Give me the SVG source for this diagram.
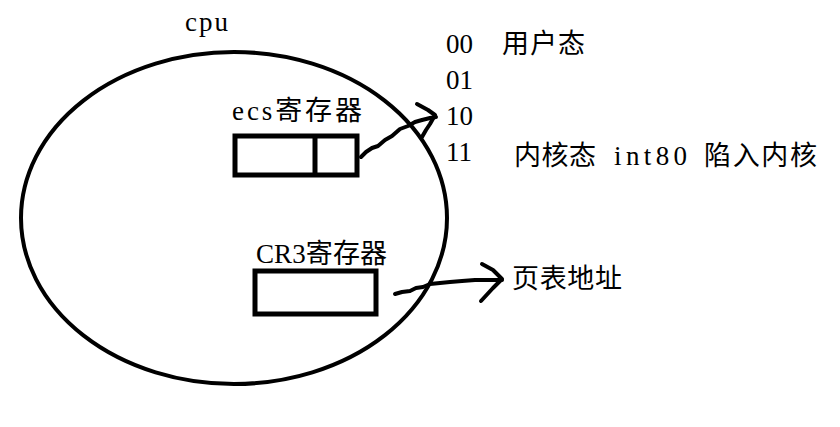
<svg xmlns="http://www.w3.org/2000/svg" width="840" height="427" viewBox="0 0 840 427">
<style>
text{font-family:"Liberation Serif","Noto Sans CJK SC",serif;font-size:27px;fill:#000}
.box{fill:none;stroke:#000;stroke-width:5}
.pen{fill:none;stroke:#000;stroke-width:4;stroke-linecap:round;stroke-linejoin:round}
</style>
<rect width="840" height="427" fill="#fff"/>
<g id="cpu">
<ellipse cx="234" cy="218" rx="213" ry="166" class="pen"/>
<text x="185" y="31" textLength="43" lengthAdjust="spacing">cpu</text>
</g>
<g id="ecs">
<text x="232" y="120" textLength="130" lengthAdjust="spacing">ecs寄存器</text>
<rect x="235" y="136" width="122" height="39" class="box"/>
<line x1="315" y1="136" x2="315" y2="175" class="box"/>
</g>
<g id="cr3">
<text x="256" y="263" textLength="131" lengthAdjust="spacing">CR3寄存器</text>
<rect x="255" y="271" width="121" height="43" class="box"/>
</g>
<g id="modes">
<text x="446" y="53">00</text>
<text x="502" y="53" textLength="83" lengthAdjust="spacing">用户态</text>
<text x="446" y="89">01</text>
<text x="446" y="125">10</text>
<text x="446" y="161">11</text>
<text x="514" y="165" textLength="82" lengthAdjust="spacing">内核态</text>
<text x="614" y="165" textLength="73" lengthAdjust="spacing">int80</text>
<text x="704" y="165" textLength="113" lengthAdjust="spacing">陷入内核</text>
</g>
<g id="pagetable">
<text x="512" y="288" textLength="110" lengthAdjust="spacing">页表地址</text>
</g>
<g id="connectors">
<path class="pen" d="M361 157 L366 152 L372 148 L378 146 L385 140 L392 136 L400 129 L408 126 L415 122 L422 120 L430 118 L436 117"/>
<path class="pen" d="M417 104 L428 110 L435 115 L430 124 L426 130 L422 137"/>
<path class="pen" d="M395 294 L402 292 L410 291 L416 288 L423 287 L430 284 L440 283 L450 282 L462 281 L475 280 L490 280 L502 280"/>
<path class="pen" d="M482 264 L493 270 L502 279 L493 288 L481 301"/>
</g>
</svg>
